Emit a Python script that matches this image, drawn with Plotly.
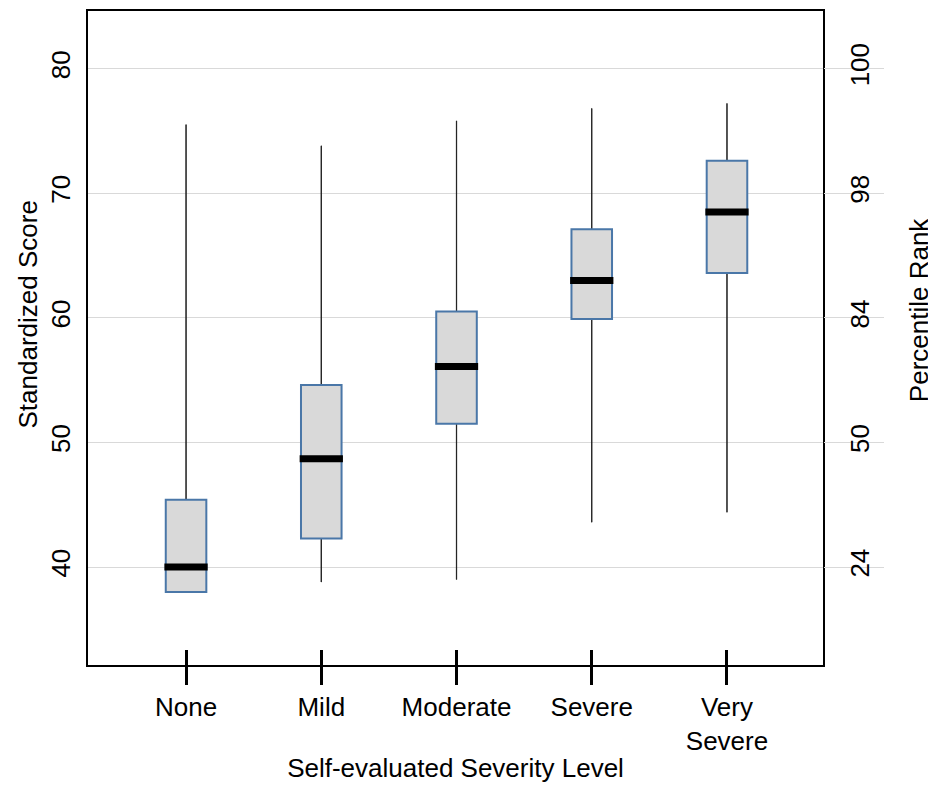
import plotly.graph_objects as go

# ---- data ----
categories = ["None", "Mild", "Moderate", "Severe", "Very<br>Severe"]
lower_whisker = [38.0, 38.8, 39.0, 43.6, 44.4]
q1 = [38.0, 42.3, 51.5, 59.9, 63.6]
median = [40.0, 48.7, 56.1, 63.0, 68.5]
q3 = [45.4, 54.6, 60.5, 67.1, 72.6]
upper_whisker = [75.5, 73.8, 75.8, 76.8, 77.2]
score_ticks = [40, 50, 60, 70, 80]
percentile_labels = ["24", "50", "84", "98", "100"]

FONT = "Liberation Sans, Arial, sans-serif"
BLUE = "#4a77a8"
GRID = "#d9d9d9"
YRANGE = [32.14, 84.62]
XRANGE = [-0.725, 4.71]
FS = 26

fig = go.Figure()

# whiskers: a near-zero-width box spanning the whisker range
fig.add_trace(go.Box(
    x=categories, q1=lower_whisker, median=median, q3=upper_whisker,
    lowerfence=lower_whisker, upperfence=upper_whisker,
    width=0.002, whiskerwidth=0, boxpoints=False,
    line=dict(color="#222222", width=1), fillcolor="rgba(0,0,0,0)",
    hoverinfo="skip", showlegend=False))

# interquartile boxes
fig.add_trace(go.Box(
    x=categories, q1=q1, median=median, q3=q3,
    lowerfence=q1, upperfence=q3,
    width=0.30, whiskerwidth=0, boxpoints=False,
    line=dict(color=BLUE, width=2), fillcolor="#d9d9d9",
    showlegend=False))

# medians: thick black bars (drawn on the overlaid secondary axes)
fig.add_trace(go.Box(
    x=categories, q1=median, median=median, q3=median,
    lowerfence=median, upperfence=median,
    width=0.32, whiskerwidth=0, boxpoints=False,
    line=dict(color="black", width=7), fillcolor="black",
    xaxis="x2", yaxis="y2",
    hoverinfo="skip", showlegend=False))

fig.update_layout(
    width=928, height=777,
    margin=dict(l=80, r=113, t=1, b=120),
    paper_bgcolor="white", plot_bgcolor="white",
    font=dict(family=FONT, size=FS, color="black"),
    boxmode="overlay",
    showlegend=False,
    xaxis=dict(
        type="category", categoryorder="array", categoryarray=categories,
        range=XRANGE, showgrid=False, zeroline=False,
        showline=True, linewidth=2, linecolor="black", mirror=True,
        ticks="outside", ticklen=18, tickwidth=3, tickcolor="black",
        tickfont=dict(family=FONT, size=FS, color="black"),
        title=dict(text="Self-evaluated Severity Level",
                   font=dict(family=FONT, size=FS, color="black"), standoff=4),
    ),
    xaxis2=dict(
        overlaying="x", anchor="y2", side="bottom",
        type="category", categoryorder="array", categoryarray=categories,
        range=XRANGE,
        ticks="inside", ticklen=15, tickwidth=3, tickcolor="black",
        showticklabels=False, showgrid=False, zeroline=False, showline=False,
    ),
    yaxis=dict(
        range=YRANGE, tickvals=score_ticks, tickangle=-90,
        showgrid=True, gridcolor=GRID, gridwidth=1, zeroline=False,
        showline=True, linewidth=2, linecolor="black", mirror=True,
        ticks="", ticklabelstandoff=6,
        tickfont=dict(family=FONT, size=FS, color="black"),
    ),
    yaxis2=dict(
        overlaying="y", side="right", anchor="x2",
        range=YRANGE, tickvals=score_ticks, ticktext=percentile_labels,
        tickangle=-90, ticks="outside", ticklen=60, tickwidth=1, tickcolor=GRID,
        ticklabelstandoff=-46, showgrid=False, zeroline=False, showline=False,
        tickfont=dict(family=FONT, size=FS, color="black"),
    ),
    annotations=[
        dict(text="Standardized Score", xref="paper", yref="paper",
             x=-0.0816, y=0.536, textangle=-90, showarrow=False,
             xanchor="center", yanchor="middle",
             font=dict(family=FONT, size=FS, color="black")),
        dict(text="Percentile Rank", xref="paper", yref="paper",
             x=1.131, y=0.543, textangle=-90, showarrow=False,
             xanchor="center", yanchor="middle",
             font=dict(family=FONT, size=FS, color="black")),
    ],
)

fig.write_html("out.html")
